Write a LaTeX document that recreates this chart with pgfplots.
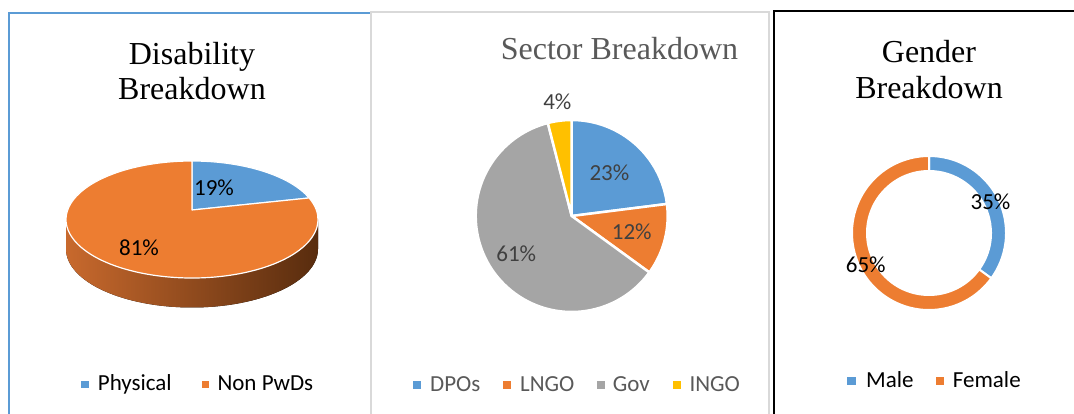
\documentclass[border=0pt]{standalone}
\usepackage{pgfplots}
\pgfplotsset{compat=1.18}
\usepackage{pgfplotstable}
\usepackage{fontspec}
\setmainfont{Liberation Serif}
\newfontfamily\calfont{Carlito}

\definecolor{cblue}{HTML}{5B9BD5}
\definecolor{corange}{HTML}{ED7D31}
\definecolor{cgray}{HTML}{A5A5A5}
\definecolor{cgold}{HTML}{FFC000}
\definecolor{ctext}{HTML}{595959}
\definecolor{clabel}{HTML}{404040}
\definecolor{cborder}{HTML}{D9D9D9}
\definecolor{sideL}{RGB}{200,105,45}
\definecolor{sideM}{RGB}{150,75,30}
\definecolor{sideR}{RGB}{88,44,14}

% Disability breakdown (3D pie)
\pgfplotstableread[col sep=comma]{
label,value,color,lx,ly
Physical,19,cblue,214,226
Non PwDs,81,corange,139,166
}\disab

% Sector breakdown (pie)
\pgfplotstableread[col sep=comma]{
label,value,color,dist
DPOs,23,cblue,57
LNGO,12,corange,62
Gov,61,cgray,67
INGO,4,cgold,115
}\sector

% Gender breakdown (doughnut)
\pgfplotstableread[col sep=comma]{
label,value,color,dist
Male,35,cblue,69
Female,65,corange,71
}\gender

\newcommand\lblfont{\calfont\fontsize{23bp}{27bp}\selectfont}
\newcommand\ttlfont{\fontsize{32bp}{38bp}\selectfont}

\begin{document}
\begin{tikzpicture}
\begin{axis}[scale only axis, width=1074bp, height=414bp,
  xmin=0, xmax=1074, ymin=0, ymax=414, hide axis, clip=false]

\pgfplotsextra{
  % ---------- borders ----------
  \draw[cblue, line width=2.6bp] (axis cs:9,0) -- (axis cs:9,401) -- (axis cs:370,401);
  \draw[cborder, line width=2bp] (axis cs:371,0) -- (axis cs:371,402) -- (axis cs:768.5,402) -- (axis cs:768.5,0);
  \draw[black, line width=2.6bp] (axis cs:774,0) -- (axis cs:774,403) -- (axis cs:1074,403);

  % ---------- panel 1: 3D pie ----------
  \fill[left color=sideL, middle color=sideM, right color=sideR]
    (axis cs:66,194.5) arc[start angle=180, end angle=360, x radius=126bp, y radius=58.5bp]
    -- (axis cs:318,165) arc[start angle=0, end angle=-180, x radius=126bp, y radius=58.5bp] -- cycle;
  \gdef\curang{90}
  \foreach \i in {0,1}{
    \pgfplotstablegetelem{\i}{value}\of\disab \let\v\pgfplotsretval
    \pgfplotstablegetelem{\i}{color}\of\disab \let\c\pgfplotsretval
    \pgfmathsetmacro\aA{\curang}
    \pgfmathsetmacro\aB{\curang-3.6*\v}
    \fill[fill=\c, draw=white, line width=1.2bp, line join=round]
      (axis cs:192,204) -- (axis cs:{192+126*cos(\aA)},{194.5+58.5*sin(\aA)})
      arc[start angle=\aA, end angle=\aB, x radius=126bp, y radius=58.5bp] -- cycle;
    \xdef\curang{\aB}
  }
  \foreach \i in {0,1}{
    \pgfplotstablegetelem{\i}{value}\of\disab \let\v\pgfplotsretval
    \pgfplotstablegetelem{\i}{lx}\of\disab \let\lx\pgfplotsretval
    \pgfplotstablegetelem{\i}{ly}\of\disab \let\ly\pgfplotsretval
    \node[black, inner sep=0] at (axis cs:\lx,\ly) {\lblfont\v\%};
  }

  % ---------- panel 2: pie ----------
  \gdef\curang{90}
  \foreach \i in {0,...,3}{
    \pgfplotstablegetelem{\i}{value}\of\sector \let\v\pgfplotsretval
    \pgfplotstablegetelem{\i}{color}\of\sector \let\c\pgfplotsretval
    \pgfmathsetmacro\aA{\curang}
    \pgfmathsetmacro\aB{\curang-3.6*\v}
    \fill[fill=\c, draw=white, line width=2.5bp, line join=round]
      (axis cs:571.7,198) -- (axis cs:{571.7+96*cos(\aA)},{198+96*sin(\aA)})
      arc[start angle=\aA, end angle=\aB, radius=96bp] -- cycle;
    \xdef\curang{\aB}
  }
  \gdef\curang{90}
  \foreach \i in {0,...,3}{
    \pgfplotstablegetelem{\i}{value}\of\sector \let\v\pgfplotsretval
    \pgfplotstablegetelem{\i}{dist}\of\sector \let\d\pgfplotsretval
    \pgfmathsetmacro\aM{\curang-1.8*\v}
    \pgfmathsetmacro\aB{\curang-3.6*\v}
    \node[clabel, inner sep=0] at (axis cs:{571.7+\d*cos(\aM)},{198+\d*sin(\aM)}) {\lblfont\v\%};
    \xdef\curang{\aB}
  }

  % ---------- panel 3: doughnut ----------
  \gdef\curang{90}
  \foreach \i in {0,1}{
    \pgfplotstablegetelem{\i}{value}\of\gender \let\v\pgfplotsretval
    \pgfplotstablegetelem{\i}{color}\of\gender \let\c\pgfplotsretval
    \pgfmathsetmacro\aA{\curang}
    \pgfmathsetmacro\aB{\curang-3.6*\v}
    \fill[fill=\c, draw=white, line width=2bp, line join=miter]
      (axis cs:{929+77*cos(\aA)},{181+77*sin(\aA)})
      arc[start angle=\aA, end angle=\aB, radius=77bp]
      -- (axis cs:{929+62*cos(\aB)},{181+62*sin(\aB)})
      arc[start angle=\aB, end angle=\aA, radius=62bp] -- cycle;
    \xdef\curang{\aB}
  }
  \gdef\curang{90}
  \foreach \i in {0,1}{
    \pgfplotstablegetelem{\i}{value}\of\gender \let\v\pgfplotsretval
    \pgfplotstablegetelem{\i}{dist}\of\gender \let\d\pgfplotsretval
    \pgfmathsetmacro\aM{\curang-1.8*\v}
    \pgfmathsetmacro\aB{\curang-3.6*\v}
    \node[black, inner sep=0] at (axis cs:{929+\d*cos(\aM)},{181+\d*sin(\aM)}) {\lblfont\v\%};
    \xdef\curang{\aB}
  }
}

% ---------- titles ----------
\node[anchor=base, inner sep=0] at (axis cs:192,349.7) {\ttlfont Disability};
\node[anchor=base, inner sep=0] at (axis cs:192,314) {\ttlfont Breakdown};
\node[anchor=base, inner sep=0, text=ctext] at (axis cs:619.5,354) {\ttlfont Sector Breakdown};
\node[anchor=base, inner sep=0] at (axis cs:929,351.3) {\ttlfont Gender};
\node[anchor=base, inner sep=0] at (axis cs:929,315.7) {\ttlfont Breakdown};

% ---------- legends ----------
\fill[cblue] (axis cs:81,25.7) rectangle (axis cs:88.5,33.3);
\node[anchor=base west, inner sep=0] at (axis cs:97.7,23.3) {\lblfont Physical};
\fill[corange] (axis cs:201.7,25.7) rectangle (axis cs:209.2,33.3);
\node[anchor=base west, inner sep=0] at (axis cs:217.3,23.3) {\lblfont Non PwDs};

\fill[cblue] (axis cs:412.7,25) rectangle (axis cs:420.7,33);
\node[anchor=base west, inner sep=0, text=ctext] at (axis cs:430,22.3) {\lblfont DPOs};
\fill[corange] (axis cs:502.7,25) rectangle (axis cs:510.7,33);
\node[anchor=base west, inner sep=0, text=ctext] at (axis cs:520,22.3) {\lblfont LNGO};
\fill[cgray] (axis cs:596.7,25) rectangle (axis cs:604.7,33);
\node[anchor=base west, inner sep=0, text=ctext] at (axis cs:612.7,22.3) {\lblfont Gov};
\fill[cgold] (axis cs:672.7,25) rectangle (axis cs:680.7,33);
\node[anchor=base west, inner sep=0, text=ctext] at (axis cs:689.3,22.3) {\lblfont INGO};

\fill[cblue] (axis cs:847.3,29) rectangle (axis cs:855.6,37.3);
\node[anchor=base west, inner sep=0] at (axis cs:866,26.3) {\lblfont Male};
\fill[corange] (axis cs:935.7,29) rectangle (axis cs:944,37.3);
\node[anchor=base west, inner sep=0] at (axis cs:952.7,26.3) {\lblfont Female};
\end{axis}
\pgfresetboundingbox
\path (0,0) rectangle (1074bp,414bp);
\end{tikzpicture}
\end{document}
